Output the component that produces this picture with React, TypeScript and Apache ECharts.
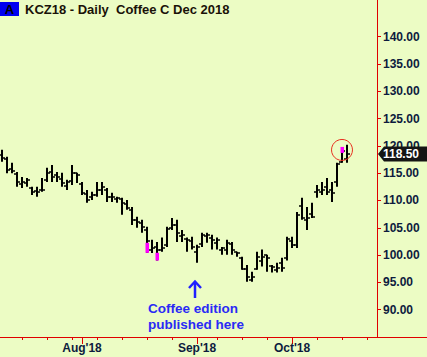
import React, { useEffect, useRef } from 'react';
import * as echarts from 'echarts';

// Trading days (index = position on the x axis); bars exist for the first 70
const tradingDays = [
  '2018-07-10', '2018-07-11', '2018-07-12', '2018-07-13',
  '2018-07-16', '2018-07-17', '2018-07-18', '2018-07-19', '2018-07-20',
  '2018-07-23', '2018-07-24', '2018-07-25', '2018-07-26', '2018-07-27',
  '2018-07-30', '2018-07-31', '2018-08-01', '2018-08-02', '2018-08-03',
  '2018-08-06', '2018-08-07', '2018-08-08', '2018-08-09', '2018-08-10',
  '2018-08-13', '2018-08-14', '2018-08-15', '2018-08-16', '2018-08-17',
  '2018-08-20', '2018-08-21', '2018-08-22', '2018-08-23', '2018-08-24',
  '2018-08-27', '2018-08-28', '2018-08-29', '2018-08-30', '2018-08-31',
  '2018-09-04', '2018-09-05', '2018-09-06', '2018-09-07',
  '2018-09-10', '2018-09-11', '2018-09-12', '2018-09-13', '2018-09-14',
  '2018-09-17', '2018-09-18', '2018-09-19', '2018-09-20', '2018-09-21',
  '2018-09-24', '2018-09-25', '2018-09-26', '2018-09-27', '2018-09-28',
  '2018-10-01', '2018-10-02', '2018-10-03', '2018-10-04', '2018-10-05',
  '2018-10-08', '2018-10-09', '2018-10-10', '2018-10-11', '2018-10-12',
  '2018-10-15', '2018-10-16', '2018-10-17', '2018-10-18', '2018-10-19',
  '2018-10-22', '2018-10-23', '2018-10-24',
];

const opens = [
  118.4, 117.6, 115.8, 114.8, 113.0, 113.2, 112.2, 111.8, 112.0, 113.8,
  115.2, 114.6, 114.0, 112.6, 113.5, 115.0, 113.0, 111.2, 110.6, 111.0,
  112.0, 112.0, 110.6, 110.2, 110.2, 109.4, 108.3, 106.4, 105.9, 104.5,
  101.0, 101.5, 101.0, 101.8, 105.0, 105.5, 103.5, 103.0, 102.5, 100.5,
  102.0, 103.5, 103.2, 102.2, 101.0, 101.0, 102.0, 100.5, 99.5, 97.5,
  95.5, 97.5, 99.0, 100.0, 98.0, 97.2, 98.5, 99.5, 102.5, 101.9,
  109.0, 106.5, 107.5, 111.5, 111.6, 112.5, 112.0, 113.3, 117.0, 117.5,
];
const highs = [
  119.3, 118.0, 116.9, 115.2, 114.3, 114.1, 112.5, 112.5, 114.1, 116.0,
  116.5, 115.2, 115.05, 113.8, 116.5, 115.05, 113.4, 111.9, 111.6, 113.4,
  113.4, 112.3, 111.4, 110.7, 110.5, 110.1, 108.8, 107.0, 106.45, 105.2,
  102.8, 102.4, 103.2, 105.2, 106.8, 106.45, 104.6, 103.2, 103.35, 101.9,
  104.1, 104.1, 103.7, 103.2, 101.5, 102.8, 102.4, 100.6, 99.7, 98.2,
  96.95, 100.6, 101.0, 100.05, 98.2, 98.6, 99.5, 103.35, 103.35, 107.9,
  110.5, 108.8, 109.6, 112.85, 113.4, 114.1, 113.4, 116.9, 119.8, 120.2,
];
const lows = [
  117.1, 115.0, 115.0, 112.5, 112.3, 112.5, 111.0, 110.7, 111.6, 113.4,
  113.4, 113.4, 112.5, 111.9, 112.85, 113.2, 111.0, 109.6, 110.1, 110.7,
  111.0, 109.7, 109.7, 109.6, 107.4, 108.3, 105.5, 105.0, 104.1, 100.4,
  100.4, 99.0, 100.6, 101.5, 104.6, 102.4, 102.4, 100.6, 101.0, 98.6,
  101.5, 102.25, 101.0, 101.0, 100.05, 100.05, 100.05, 99.7, 97.3, 95.1,
  95.1, 97.3, 97.9, 96.95, 96.8, 96.8, 96.95, 99.0, 101.3, 101.3,
  106.45, 104.6, 106.8, 110.5, 111.0, 111.0, 109.7, 112.5, 116.9, 116.9,
];
const closes = [
  117.8, 115.6, 115.4, 113.4, 113.4, 113.8, 111.6, 111.6, 112.0, 115.0,
  114.3, 114.3, 113.2, 113.4, 115.05, 114.7, 111.4, 110.1, 111.0, 111.9,
  112.5, 110.7, 110.7, 110.5, 109.6, 108.6, 106.4, 106.1, 105.2, 102.5,
  101.3, 101.0, 101.3, 104.8, 105.5, 104.1, 103.7, 102.8, 101.5, 101.5,
  103.7, 103.7, 102.8, 102.8, 101.3, 102.25, 101.0, 100.4, 97.4, 96.0,
  96.0, 99.7, 99.7, 99.5, 97.9, 97.7, 97.7, 102.9, 101.9, 107.4,
  106.8, 106.8, 107.0, 111.9, 111.9, 111.6, 111.4, 116.6, 119.0, 118.5,
];

// Magenta signal markers
const markerIdx = [29, 31, 68];
const markerLow = [100.4, 99.0, 118.7];
const markerHigh = [102.25, 100.42, 119.8];

const yTicks = [90, 95, 100, 105, 110, 115, 120, 125, 130, 135, 140];
const monthNames = ['Jan', 'Feb', 'Mar', 'Apr', 'May', 'Jun', 'Jul', 'Aug', 'Sep', 'Oct', 'Nov', 'Dec'];

const title = 'KCZ18 - Daily  Coffee C Dec 2018';
const noteLines = ['Coffee edition', 'published here'];
const noteDate = '2018-09-04';
const circledDate = '2018-10-15';

const RED = '#e00000';
const NAVY = '#0d1b3e';

export default function App() {
  const ref = useRef<HTMLDivElement>(null);

  useEffect(() => {
    const chart = echarts.init(ref.current!, null, { renderer: 'svg' });

    const dow = (s: string) => new Date(s + 'T12:00:00Z').getUTCDay();
    const weekTicks: number[] = [];
    const monthTicks: number[] = [];
    const monthLabel: Record<number, string> = {};
    tradingDays.forEach((d, i) => {
      if (i > 0 && dow(d) < dow(tradingDays[i - 1])) weekTicks.push(i);
      if (i > 0 && d.slice(5, 7) !== tradingDays[i - 1].slice(5, 7)) {
        monthTicks.push(i);
        monthLabel[i] = monthNames[parseInt(d.slice(5, 7), 10) - 1] + "'" + d.slice(2, 4);
      }
    });

    const barData = closes.map((c, i) => [i, opens[i], highs[i], lows[i], c]);
    const markerData = markerIdx.map((i, k) => [i, markerLow[k], markerHigh[k]]);

    const xMin = -0.4;
    const xMax = tradingDays.length - 1;

    chart.setOption({
      animation: false,
      backgroundColor: '#ecfcc4',
      grid: { left: 0, right: 50, top: 0, bottom: 20, containLabel: false },
      xAxis: [
        {
          type: 'value', min: xMin, max: xMax, position: 'bottom',
          axisLine: { show: true, onZero: false, lineStyle: { color: RED, width: 1 } },
          axisTick: { show: true, customValues: weekTicks, length: 3, lineStyle: { color: RED, width: 1 } },
          axisLabel: { show: false },
          splitLine: { show: false },
        },
        {
          type: 'value', min: xMin, max: xMax, position: 'bottom',
          axisLine: { show: false, onZero: false },
          axisTick: { show: true, customValues: monthTicks, length: 7, lineStyle: { color: RED, width: 1 } },
          axisLabel: {
            show: true, customValues: monthTicks, margin: 5,
            formatter: (v: number) => monthLabel[Math.round(v)] || '',
            color: NAVY, fontWeight: 'bold', fontSize: 12, fontFamily: 'Arial, Liberation Sans',
          },
          splitLine: { show: false },
        },
      ],
      yAxis: {
        type: 'value', position: 'right', min: 85, max: 146.7, interval: 5,
        axisLine: { show: true, onZero: false, lineStyle: { color: RED, width: 1 } },
        axisTick: { show: true, customValues: yTicks, length: 4, lineStyle: { color: RED, width: 1 } },
        axisLabel: {
          show: true, customValues: yTicks, margin: 6,
          formatter: (v: number) => v.toFixed(2),
          color: NAVY, fontWeight: 'bold', fontSize: 12, fontFamily: 'Arial, Liberation Sans',
        },
        splitLine: { show: false },
      },
      series: [
        {
          type: 'custom', xAxisIndex: 0, yAxisIndex: 0,
          data: barData,
          encode: { x: 0, y: [1, 2, 3, 4] },
          renderItem: (params: any, api: any) => {
            const i = api.value(0);
            const h = api.coord([i, api.value(2)]);
            const l = api.coord([i, api.value(3)]);
            const o = api.coord([i, api.value(1)]);
            const c = api.coord([i, api.value(4)]);
            const x = Math.round(h[0]);
            const st = { stroke: '#000', lineWidth: 2 };
            return {
              type: 'group',
              children: [
                { type: 'line', shape: { x1: x, y1: h[1], x2: x, y2: l[1] }, style: st },
                { type: 'line', shape: { x1: x - 3, y1: Math.round(o[1]), x2: x, y2: Math.round(o[1]) }, style: { stroke: '#000', lineWidth: 1.5 } },
                { type: 'line', shape: { x1: x, y1: Math.round(c[1]), x2: x + 3, y2: Math.round(c[1]) }, style: { stroke: '#000', lineWidth: 1.5 } },
              ],
            };
          },
          z: 2,
        },
        {
          type: 'custom', xAxisIndex: 0, yAxisIndex: 0,
          data: markerData,
          encode: { x: 0, y: [1, 2] },
          renderItem: (params: any, api: any) => {
            const i = api.value(0);
            const lo = api.coord([i, api.value(1)]);
            const hi = api.coord([i, api.value(2)]);
            return {
              type: 'rect',
              shape: { x: Math.round(lo[0]) - 1.5, y: hi[1], width: 3.5, height: lo[1] - hi[1] },
              style: { fill: '#ff00ff' },
            };
          },
          z: 3,
        },
      ],
    });

    // Overlay elements positioned through the chart's own scales
    const lastClose = closes[closes.length - 1];
    const yLast = chart.convertToPixel({ yAxisIndex: 0 }, lastClose) as number;
    const noteIdx = tradingDays.indexOf(noteDate);
    const noteX = chart.convertToPixel({ xAxisIndex: 0 }, noteIdx) as number;
    const cIdx = tradingDays.indexOf(circledDate);
    const cx = chart.convertToPixel({ xAxisIndex: 0 }, cIdx) as number;
    const ki = markerIdx.indexOf(cIdx);
    const cy = chart.convertToPixel({ yAxisIndex: 0 }, (markerLow[ki] + markerHigh[ki]) / 2) as number;
    const axisY = chart.convertToPixel({ yAxisIndex: 0 }, 85) as number;
    const axisX = chart.convertToPixel({ xAxisIndex: 0 }, xMax) as number;

    const ax = noteX - 2;
    const arrowTop = axisY - 56;
    const arrowBottom = axisY - 39;
    chart.setOption({
      graphic: [
        { type: 'line', shape: { x1: axisX, y1: axisY + 0.5, x2: 427, y2: axisY + 0.5 }, style: { stroke: RED, lineWidth: 1 }, z: 10 },
        { type: 'rect', shape: { x: 0, y: 2, width: 19, height: 14 }, style: { fill: '#0000f0' }, z: 10 },
        { type: 'text', x: 9.5, y: 9.5, style: { text: 'A', fill: '#000', font: 'bold 13px Arial, Liberation Sans', align: 'center', verticalAlign: 'middle' }, z: 11 },
        { type: 'text', x: 25, y: 9.5, style: { text: title, fill: '#1a1208', font: 'bold 13px Arial, Liberation Sans', align: 'left', verticalAlign: 'middle' }, z: 11 },
        { type: 'circle', shape: { cx, cy, r: 10.5 }, style: { fill: 'none', stroke: '#e83020', lineWidth: 1 }, z: 10 },
        {
          type: 'polygon',
          shape: { points: [[axisX + 1, yLast], [axisX + 7, yLast - 7.5], [427, yLast - 7.5], [427, yLast + 7.5], [axisX + 7, yLast + 7.5]] },
          style: { fill: '#141414' }, z: 20,
        },
        { type: 'text', x: 383, y: yLast, style: { text: lastClose.toFixed(2), fill: '#fff', font: 'bold 12px Arial, Liberation Sans', align: 'left', verticalAlign: 'middle' }, z: 21 },
        { type: 'line', shape: { x1: ax, y1: arrowTop + 1, x2: ax, y2: arrowBottom }, style: { stroke: '#2020ff', lineWidth: 2.5 }, z: 10 },
        { type: 'polyline', shape: { points: [[ax - 6, arrowTop + 7], [ax, arrowTop + 0.5], [ax + 6, arrowTop + 7]] }, style: { stroke: '#2020ff', lineWidth: 2.5, fill: 'none' }, z: 10 },
        { type: 'text', x: 148, y: axisY - 29, style: { text: noteLines[0], fill: '#2a2af5', font: 'bold 13.5px Arial, Liberation Sans', align: 'left', verticalAlign: 'middle' }, z: 10 },
        { type: 'text', x: 148, y: axisY - 13, style: { text: noteLines[1], fill: '#2a2af5', font: 'bold 13.5px Arial, Liberation Sans', align: 'left', verticalAlign: 'middle' }, z: 10 },
      ],
    });

    return () => chart.dispose();
  }, []);

  return <div ref={ref} style={{ position: 'fixed', left: 0, top: 0, width: 427, height: 357 }} />;
}
